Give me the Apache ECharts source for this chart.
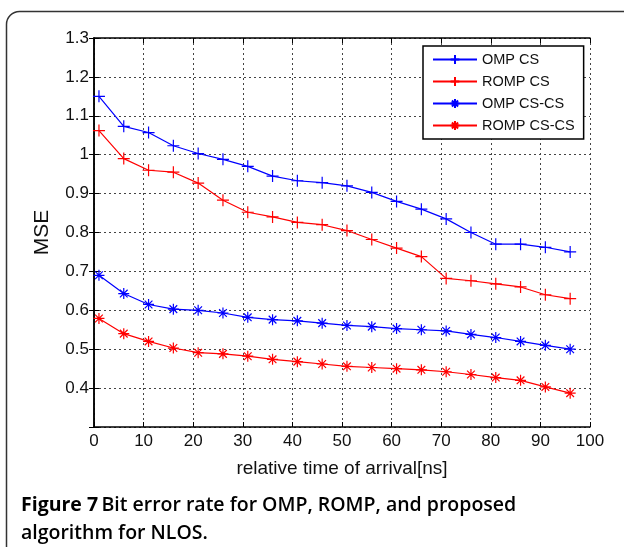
<!DOCTYPE html>
<html><head><meta charset="utf-8">
<script src="https://cdn.jsdelivr.net/npm/echarts@6/dist/echarts.min.js"></script>
<style>html,body{margin:0;padding:0;background:#fff}#c{width:624px;height:547px}</style>
</head><body><div id="c"></div>
<script>
var xValues = [1,6,11,16,21,26,31,36,41,46,51,56,61,66,71,76,81,86,91,96];
var ompCS = [1.15,1.073,1.057,1.023,1.003,0.988,0.97,0.945,0.933,0.928,0.92,0.903,0.88,0.86,0.835,0.8,0.77,0.77,0.762,0.75];
var rompCS = [1.062,0.99,0.96,0.955,0.927,0.883,0.852,0.84,0.826,0.82,0.805,0.782,0.76,0.738,0.682,0.676,0.668,0.66,0.64,0.63];
var ompCSCS = [0.69,0.643,0.615,0.603,0.6,0.593,0.582,0.576,0.573,0.567,0.561,0.558,0.553,0.55,0.547,0.538,0.53,0.52,0.51,0.5];
var rompCSCS = [0.579,0.54,0.52,0.503,0.491,0.488,0.482,0.474,0.468,0.462,0.456,0.453,0.45,0.447,0.442,0.435,0.427,0.42,0.403,0.387];
var seriesNames = ['OMP CS','ROMP CS','OMP CS-CS','ROMP CS-CS'];
var yTicks = {min:0.3, max:1.3, step:0.1};
var xTicks = {min:0, max:100, step:10};

var PLUS = 'path://M0,-1L0,1M-1,0L1,0';
var STAR = 'path://M0,-1L0,1M-1,0L1,0M-0.7,-0.7L0.7,0.7M-0.7,0.7L0.7,-0.7';
function pairs(ys){return xValues.map(function(x,i){return [x,ys[i]];});}
function mk(name, ys, color, sym, size){
  return {name:name,type:'line',data:pairs(ys),symbol:sym,symbolSize:size,showSymbol:true,
    lineStyle:{color:color,width:1.2},itemStyle:{color:color,borderColor:color,borderWidth:1.2},
    emphasis:{disabled:true},animation:false};
}
var chart = echarts.init(document.getElementById('c'));
var font = 'Liberation Sans, Arial, sans-serif';
var axLine = {show:true,lineStyle:{color:'#000',width:1.5}};
chart.setOption({
  animation:false,
  grid:{left:94,top:38,right:34,bottom:120,containLabel:false},
  legend:{
    data:seriesNames,
    orient:'vertical',left:423,top:46,itemWidth:44,itemHeight:11,itemGap:7,
    textStyle:{fontFamily:font,fontSize:14.5,color:'#111'},
    backgroundColor:'#fff',borderColor:'#000',borderWidth:1.5,padding:[6,9,6,9]
  },
  xAxis:[{type:'value',min:xTicks.min,max:xTicks.max,interval:xTicks.step,
    name:'relative time of arrival[ns]',nameLocation:'middle',nameGap:32,
    nameTextStyle:{fontFamily:font,fontSize:19,color:'#111'},
    axisLine:axLine,axisTick:{inside:true,length:5,lineStyle:{color:'#000'}},
    axisLabel:{fontFamily:font,fontSize:17,color:'#111',margin:6},
    splitLine:{show:true,lineStyle:{color:'#444',type:[2,3],width:1}}},
   {type:'value',position:'top',min:xTicks.min,max:xTicks.max,interval:xTicks.step,
    axisLine:axLine,axisTick:{inside:true,length:5,lineStyle:{color:'#000'}},
    axisLabel:{show:false},splitLine:{show:false}}],
  yAxis:[{type:'value',min:yTicks.min,max:yTicks.max,interval:yTicks.step,
    name:'MSE',nameLocation:'middle',nameGap:41,nameRotate:90,
    nameTextStyle:{fontFamily:font,fontSize:21,color:'#111'},
    axisLine:axLine,axisTick:{inside:true,length:5,lineStyle:{color:'#000'}},
    axisLabel:{fontFamily:font,fontSize:17,color:'#111',margin:5,
      formatter:function(v){return v<yTicks.min+0.05?'':String(+v.toFixed(1));}},
    splitLine:{show:true,lineStyle:{color:'#444',type:[2,3],width:1}}},
   {type:'value',position:'right',min:yTicks.min,max:yTicks.max,interval:yTicks.step,
    axisLine:axLine,axisTick:{inside:true,length:5,lineStyle:{color:'#000'}},
    axisLabel:{show:false},splitLine:{show:false}}],
  series:[
    mk(seriesNames[0],ompCS,'#0000ff',PLUS,12),
    mk(seriesNames[1],rompCS,'#ff0000',PLUS,12),
    mk(seriesNames[2],ompCSCS,'#0000ff',STAR,11),
    mk(seriesNames[3],rompCSCS,'#ff0000',STAR,11)
  ],
  graphic:[
    {type:'rect',shape:{x:6.5,y:11.5,width:700,height:600,r:13},style:{fill:'none',stroke:'#333',lineWidth:1.5},silent:true,z:-10},
    {type:'text',left:21,top:495,style:{
      text:'{b|Figure 7} {s|Bit error rate for OMP, ROMP, and proposed}\n{s|algorithm for NLOS.}',
      rich:{b:{fontFamily:'Open Sans',fontWeight:'bold',fontSize:19.5,color:'#2a2a2a',lineHeight:28},
            s:{fontFamily:'Open Sans',fontWeight:600,fontSize:19.5,color:'#2a2a2a',lineHeight:28}}}}
  ]
});
</script></body></html>
